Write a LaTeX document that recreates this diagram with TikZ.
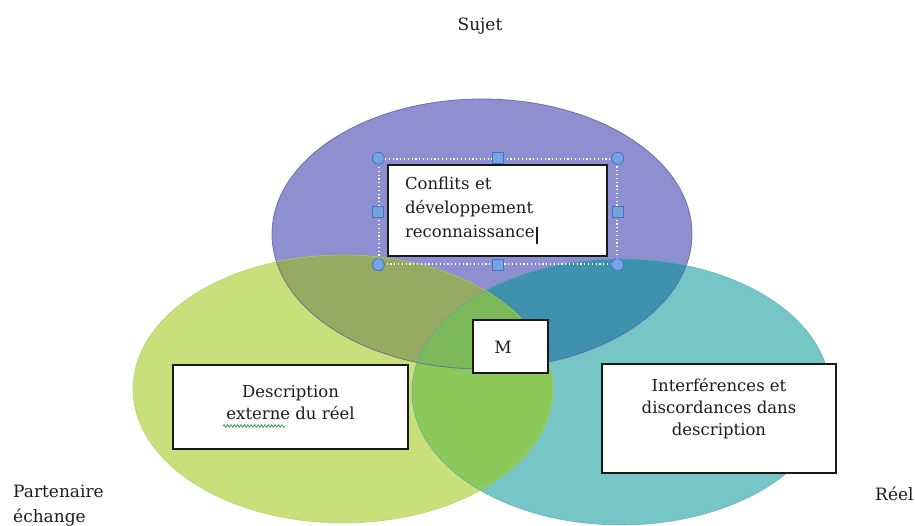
\documentclass[tikz,border=0pt]{standalone}
\usepackage{fontspec}
\setmainfont{DejaVu Serif}
\usetikzlibrary{decorations.pathmorphing}

% ellipse fills and their overlaps
\definecolor{sujetfill}{RGB}{142,143,208}
\definecolor{partfill}{RGB}{201,224,122}
\definecolor{reelfill}{RGB}{118,198,200}
\definecolor{spfill}{RGB}{151,170,98}
\definecolor{srfill}{RGB}{62,146,174}
\definecolor{prfill}{RGB}{139,201,90}
\definecolor{allfill}{RGB}{124,185,90}
% outlines
\definecolor{sujetline}{RGB}{100,100,156}
\definecolor{partline}{RGB}{178,202,98}
\definecolor{reelline}{RGB}{82,166,170}
% selection handles and text
\definecolor{handlefill}{RGB}{118,163,226}
\definecolor{handleline}{RGB}{66,116,196}
\definecolor{inktext}{RGB}{28,28,28}
\definecolor{spellgreen}{RGB}{50,140,80}

\begin{document}
\begin{tikzpicture}[x=1pt, y=-1pt,
  boxframe/.style={draw=black!90, line width=1.3pt, fill=white, inner sep=0pt},
  boxtext/.style={text=inktext, inner sep=0pt, align=center,
    font=\fontsize{16.5}{22}\selectfont},
  lab/.style={text=inktext, inner sep=0pt, font=\fontsize{17}{20}\selectfont},
  selframe/.style={draw=white, line width=1.4pt, dash pattern=on 1.2pt off 2.6pt,
    inner sep=0pt, minimum width=238pt, minimum height=105pt},
  handleround/.style={circle, draw=handleline, fill=handlefill, line width=0.8pt,
    minimum size=12pt, inner sep=0pt},
  handlesq/.style={rectangle, draw=handleline, fill=handlefill, line width=0.8pt,
    minimum size=11pt, inner sep=0pt}]

\useasboundingbox (0,0) rectangle (915,526);

\def\ellS{(482,234) ellipse [x radius=210pt, y radius=135pt]}
\def\ellP{(343,389) ellipse [x radius=210pt, y radius=134pt]}
\def\ellR{(621,392) ellipse [x radius=209pt, y radius=133pt]}

% the three sets
\fill[sujetfill] \ellS;
\fill[partfill] \ellP;
\fill[reelfill] \ellR;

% pairwise overlaps
\begin{scope}
  \clip \ellS;
  \fill[spfill] \ellP;
  \fill[srfill] \ellR;
\end{scope}
\begin{scope}
  \clip \ellP;
  \fill[prfill] \ellR;
\end{scope}
% common centre
\begin{scope}
  \clip \ellS;
  \clip \ellP;
  \fill[allfill] \ellR;
\end{scope}

% outlines
\draw[sujetline, line width=0.8pt, opacity=0.85] \ellS;
\draw[partline, line width=0.6pt, opacity=0.7] \ellP;
\draw[reelline, line width=0.6pt, opacity=0.7] \ellR;

% text box of the upper set, with its selection frame
\node[boxframe, minimum width=219pt, minimum height=91pt, text width=185pt,
  align=left, text=inktext, font=\fontsize{16.5}{24}\selectfont] (conflits) at (497.5,210.5)
  {Conflits et\\développement\\reconnaissance\hspace{1.5pt}\rule[-7pt]{2pt}{17pt}};
\node[selframe] (sel) at (498,211.5) {};
\foreach \a in {north west, north east, south west, south east}
  \node[handleround] (h-\a) at (sel.\a) {};
\foreach \a in {north, south, west, east}
  \node[handlesq] (h-\a) at (sel.\a) {};

% text box of the left set
\node[boxframe, minimum width=235pt, minimum height=84pt] (desc) at (290.5,407) {};
\node[boxtext] (desctext) at ([yshift=4pt]desc.center) {Description\\externe du réel};
\draw[spellgreen, line width=0.7pt,
  decorate, decoration={snake, segment length=3.4pt, amplitude=1.3pt}]
  (223,426) -- (285,426);

% text box of the right set
\node[boxframe, minimum width=234pt, minimum height=109pt] (interf) at (719,418.5) {};
\node[boxtext] (interftext) at ([yshift=10pt]interf.center)
  {Interférences et\\discordances dans\\description};

% centre box
\node[boxframe, minimum width=75pt, minimum height=53pt] (mbox) at (510.5,346.5) {};
\node[boxtext, font=\fontsize{17}{20}\selectfont] (mtext) at (503,347) {M};

% set labels
\node[lab, anchor=base] (sujet) at (480,31) {Sujet};
\node[lab, anchor=base west] (part1) at (13,497) {Partenaire};
\node[lab, anchor=base west] (part2) at (13,522) {échange};
\node[lab, anchor=base west] (reel) at (875,500) {Réel};

\end{tikzpicture}
\end{document}
